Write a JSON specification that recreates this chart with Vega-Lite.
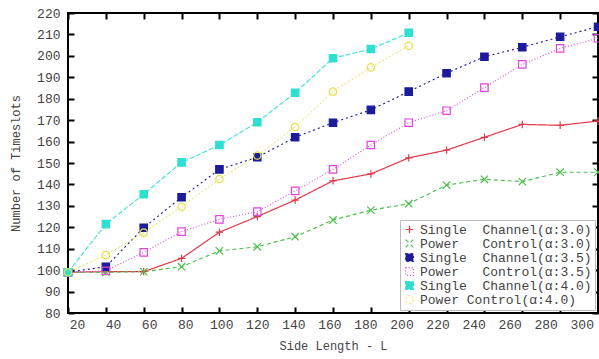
{
  "$schema": "https://vega.github.io/schema/vega-lite/v6.json",
  "width": 530,
  "height": 300,
  "autosize": {"type": "none"},
  "padding": {"left": 68, "top": 13, "right": 1, "bottom": 46},
  "background": "white",
  "config": {
    "view": {"stroke": "#000", "strokeWidth": 2},
    "font": "Liberation Mono",
    "axis": {
      "labelFont": "Liberation Mono", "labelFontSize": 13, "labelColor": "#444",
      "titleFont": "Liberation Mono", "titleFontSize": 12, "titleFontWeight": "normal", "titleColor": "#444",
      "grid": false, "domain": false, "ticks": false
    },
    "legend": {
      "orient": "bottom-right", "offset": 3, "padding": 3, "zindex": 2,
      "labelFont": "Liberation Mono", "labelFontSize": 13, "labelColor": "#444",
      "symbolSize": 60, "symbolStrokeWidth": 1.2, "rowPadding": 0,
      "fillColor": "white", "strokeColor": "#bbb", "labelLimit": 300
    }
  },
  "data": {"values": [
    {"s": "Single\u00a0\u00a0Channel(α:3.0)", "L": 15, "T": 99},
    {"s": "Single\u00a0\u00a0Channel(α:3.0)", "L": 36, "T": 99.3},
    {"s": "Single\u00a0\u00a0Channel(α:3.0)", "L": 57, "T": 99.3},
    {"s": "Single\u00a0\u00a0Channel(α:3.0)", "L": 78, "T": 105.5},
    {"s": "Single\u00a0\u00a0Channel(α:3.0)", "L": 99, "T": 117.7},
    {"s": "Single\u00a0\u00a0Channel(α:3.0)", "L": 120, "T": 125},
    {"s": "Single\u00a0\u00a0Channel(α:3.0)", "L": 141, "T": 132.7},
    {"s": "Single\u00a0\u00a0Channel(α:3.0)", "L": 162, "T": 141.7},
    {"s": "Single\u00a0\u00a0Channel(α:3.0)", "L": 183, "T": 144.9},
    {"s": "Single\u00a0\u00a0Channel(α:3.0)", "L": 204, "T": 152.4},
    {"s": "Single\u00a0\u00a0Channel(α:3.0)", "L": 225, "T": 156},
    {"s": "Single\u00a0\u00a0Channel(α:3.0)", "L": 246, "T": 162},
    {"s": "Single\u00a0\u00a0Channel(α:3.0)", "L": 267, "T": 168},
    {"s": "Single\u00a0\u00a0Channel(α:3.0)", "L": 288, "T": 167.6},
    {"s": "Single\u00a0\u00a0Channel(α:3.0)", "L": 309, "T": 169.6},
    {"s": "Power\u00a0\u00a0\u00a0Control(α:3.0)", "L": 15, "T": 99},
    {"s": "Power\u00a0\u00a0\u00a0Control(α:3.0)", "L": 36, "T": 99},
    {"s": "Power\u00a0\u00a0\u00a0Control(α:3.0)", "L": 57, "T": 99.3},
    {"s": "Power\u00a0\u00a0\u00a0Control(α:3.0)", "L": 78, "T": 101.6},
    {"s": "Power\u00a0\u00a0\u00a0Control(α:3.0)", "L": 99, "T": 109},
    {"s": "Power\u00a0\u00a0\u00a0Control(α:3.0)", "L": 120, "T": 110.9},
    {"s": "Power\u00a0\u00a0\u00a0Control(α:3.0)", "L": 141, "T": 115.6},
    {"s": "Power\u00a0\u00a0\u00a0Control(α:3.0)", "L": 162, "T": 123.4},
    {"s": "Power\u00a0\u00a0\u00a0Control(α:3.0)", "L": 183, "T": 128},
    {"s": "Power\u00a0\u00a0\u00a0Control(α:3.0)", "L": 204, "T": 131},
    {"s": "Power\u00a0\u00a0\u00a0Control(α:3.0)", "L": 225, "T": 139.7},
    {"s": "Power\u00a0\u00a0\u00a0Control(α:3.0)", "L": 246, "T": 142.4},
    {"s": "Power\u00a0\u00a0\u00a0Control(α:3.0)", "L": 267, "T": 141.3},
    {"s": "Power\u00a0\u00a0\u00a0Control(α:3.0)", "L": 288, "T": 145.7},
    {"s": "Power\u00a0\u00a0\u00a0Control(α:3.0)", "L": 309, "T": 145.7},
    {"s": "Single\u00a0\u00a0Channel(α:3.5)", "L": 15, "T": 99},
    {"s": "Single\u00a0\u00a0Channel(α:3.5)", "L": 36, "T": 101.6},
    {"s": "Single\u00a0\u00a0Channel(α:3.5)", "L": 57, "T": 119.8},
    {"s": "Single\u00a0\u00a0Channel(α:3.5)", "L": 78, "T": 134},
    {"s": "Single\u00a0\u00a0Channel(α:3.5)", "L": 99, "T": 147},
    {"s": "Single\u00a0\u00a0Channel(α:3.5)", "L": 120, "T": 152.7},
    {"s": "Single\u00a0\u00a0Channel(α:3.5)", "L": 141, "T": 162},
    {"s": "Single\u00a0\u00a0Channel(α:3.5)", "L": 162, "T": 168.8},
    {"s": "Single\u00a0\u00a0Channel(α:3.5)", "L": 183, "T": 174.8},
    {"s": "Single\u00a0\u00a0Channel(α:3.5)", "L": 204, "T": 183.3},
    {"s": "Single\u00a0\u00a0Channel(α:3.5)", "L": 225, "T": 191.9},
    {"s": "Single\u00a0\u00a0Channel(α:3.5)", "L": 246, "T": 199.6},
    {"s": "Single\u00a0\u00a0Channel(α:3.5)", "L": 267, "T": 204},
    {"s": "Single\u00a0\u00a0Channel(α:3.5)", "L": 288, "T": 208.9},
    {"s": "Single\u00a0\u00a0Channel(α:3.5)", "L": 309, "T": 213.6},
    {"s": "Power\u00a0\u00a0\u00a0Control(α:3.5)", "L": 15, "T": 99},
    {"s": "Power\u00a0\u00a0\u00a0Control(α:3.5)", "L": 36, "T": 99.7},
    {"s": "Power\u00a0\u00a0\u00a0Control(α:3.5)", "L": 57, "T": 108.3},
    {"s": "Power\u00a0\u00a0\u00a0Control(α:3.5)", "L": 78, "T": 118},
    {"s": "Power\u00a0\u00a0\u00a0Control(α:3.5)", "L": 99, "T": 123.7},
    {"s": "Power\u00a0\u00a0\u00a0Control(α:3.5)", "L": 120, "T": 127.3},
    {"s": "Power\u00a0\u00a0\u00a0Control(α:3.5)", "L": 141, "T": 137},
    {"s": "Power\u00a0\u00a0\u00a0Control(α:3.5)", "L": 162, "T": 147},
    {"s": "Power\u00a0\u00a0\u00a0Control(α:3.5)", "L": 183, "T": 158.4},
    {"s": "Power\u00a0\u00a0\u00a0Control(α:3.5)", "L": 204, "T": 168.8},
    {"s": "Power\u00a0\u00a0\u00a0Control(α:3.5)", "L": 225, "T": 174.4},
    {"s": "Power\u00a0\u00a0\u00a0Control(α:3.5)", "L": 246, "T": 185.2},
    {"s": "Power\u00a0\u00a0\u00a0Control(α:3.5)", "L": 267, "T": 196},
    {"s": "Power\u00a0\u00a0\u00a0Control(α:3.5)", "L": 288, "T": 203.5},
    {"s": "Power\u00a0\u00a0\u00a0Control(α:3.5)", "L": 309, "T": 208.2},
    {"s": "Single\u00a0\u00a0Channel(α:4.0)", "L": 15, "T": 99},
    {"s": "Single\u00a0\u00a0Channel(α:4.0)", "L": 36, "T": 121.5},
    {"s": "Single\u00a0\u00a0Channel(α:4.0)", "L": 57, "T": 135.4},
    {"s": "Single\u00a0\u00a0Channel(α:4.0)", "L": 78, "T": 150.3},
    {"s": "Single\u00a0\u00a0Channel(α:4.0)", "L": 99, "T": 158.4},
    {"s": "Single\u00a0\u00a0Channel(α:4.0)", "L": 120, "T": 169},
    {"s": "Single\u00a0\u00a0Channel(α:4.0)", "L": 141, "T": 182.8},
    {"s": "Single\u00a0\u00a0Channel(α:4.0)", "L": 162, "T": 198.9},
    {"s": "Single\u00a0\u00a0Channel(α:4.0)", "L": 183, "T": 203.2},
    {"s": "Single\u00a0\u00a0Channel(α:4.0)", "L": 204, "T": 210.8},
    {"s": "Power Control(α:4.0)", "L": 15, "T": 99},
    {"s": "Power Control(α:4.0)", "L": 36, "T": 107},
    {"s": "Power Control(α:4.0)", "L": 57, "T": 117.5},
    {"s": "Power Control(α:4.0)", "L": 78, "T": 129.6},
    {"s": "Power Control(α:4.0)", "L": 99, "T": 142.5},
    {"s": "Power Control(α:4.0)", "L": 120, "T": 153.5},
    {"s": "Power Control(α:4.0)", "L": 141, "T": 166.8},
    {"s": "Power Control(α:4.0)", "L": 162, "T": 183.3},
    {"s": "Power Control(α:4.0)", "L": 183, "T": 194.6},
    {"s": "Power Control(α:4.0)", "L": 204, "T": 204.7}
  ]},
  "resolve": {"axis": {"x": "independent", "y": "independent"}},
  "layer": [
    {
      "mark": {"type": "line"},
      "encoding": {
        "x": {"field": "L", "type": "quantitative",
          "scale": {"domain": [15, 309], "nice": false, "zero": false},
          "axis": {"orient": "bottom", "values": [20,40,60,80,100,120,140,160,180,200,220,240,260,280,300], "labelPadding": 5, "labelFlush": false, "title": "Side Length - L", "titlePadding": 9}},
        "y": {"field": "T", "type": "quantitative",
          "scale": {"domain": [80, 220], "nice": false, "zero": false},
          "axis": {"orient": "left", "values": [80,90,100,110,120,130,140,150,160,170,180,190,200,210,220], "labelPadding": 8, "labelFlush": false, "title": "Number of Timeslots", "titlePadding": 14}},
        "stroke": {"field": "s", "type": "nominal",
          "scale": {"domain": ["Single\u00a0\u00a0Channel(α:3.0)", "Power\u00a0\u00a0\u00a0Control(α:3.0)", "Single\u00a0\u00a0Channel(α:3.5)", "Power\u00a0\u00a0\u00a0Control(α:3.5)", "Single\u00a0\u00a0Channel(α:4.0)", "Power Control(α:4.0)"],
            "range": ["#e03a48", "#4cbf4c", "#1c1c9a", "#e045e0", "#2ee0d2", "#e6e04a"]},
          "legend": {"title": null}},
        "strokeDash": {"field": "s", "type": "nominal",
          "scale": {"domain": ["Single\u00a0\u00a0Channel(α:3.0)", "Power\u00a0\u00a0\u00a0Control(α:3.0)", "Single\u00a0\u00a0Channel(α:3.5)", "Power\u00a0\u00a0\u00a0Control(α:3.5)", "Single\u00a0\u00a0Channel(α:4.0)", "Power Control(α:4.0)"],
            "range": [[1, 0], [4, 3], [2, 3], [1, 2], [5, 2], [2, 2]]},
          "legend": {"title": null}},
        "strokeWidth": {"field": "s", "type": "nominal",
          "scale": {"domain": ["Single\u00a0\u00a0Channel(α:3.0)", "Power\u00a0\u00a0\u00a0Control(α:3.0)", "Single\u00a0\u00a0Channel(α:3.5)", "Power\u00a0\u00a0\u00a0Control(α:3.5)", "Single\u00a0\u00a0Channel(α:4.0)", "Power Control(α:4.0)"],
            "range": [1.2, 1, 2, 1, 1, 1]},
          "legend": null}
      }
    },
    {
      "mark": {"type": "point", "size": 55, "strokeWidth": 1.2, "opacity": 1},
      "encoding": {
        "x": {"field": "L", "type": "quantitative",
          "axis": {"orient": "top", "values": [15,36,57,78,99,120,141,162,183,204,225,246,267,288,309], "labels": false, "title": null,
            "grid": true, "gridColor": "#000", "gridWidth": 2, "gridOpacity": 1, "gridDash": [6, 288, 6, 60]}},
        "y": {"field": "T", "type": "quantitative",
          "axis": {"orient": "right", "values": [80,90,100,110,120,130,140,150,160,170,180,190,200,210,220], "labels": false, "title": null,
            "grid": true, "gridColor": "#000", "gridWidth": 2, "gridOpacity": 1, "gridDash": [6, 518, 6, 60]}},
        "stroke": {"field": "s", "type": "nominal", "legend": {"title": null}},
        "shape": {"field": "s", "type": "nominal",
          "scale": {"domain": ["Single\u00a0\u00a0Channel(α:3.0)", "Power\u00a0\u00a0\u00a0Control(α:3.0)", "Single\u00a0\u00a0Channel(α:3.5)", "Power\u00a0\u00a0\u00a0Control(α:3.5)", "Single\u00a0\u00a0Channel(α:4.0)", "Power Control(α:4.0)"],
            "range": ["M-1,0H1M0,-1V1", "M-1,-1L1,1M-1,1L1,-1", "square", "square", "square", "circle"]},
          "legend": {"title": null}},
        "fill": {"field": "s", "type": "nominal",
          "scale": {"domain": ["Single\u00a0\u00a0Channel(α:3.0)", "Power\u00a0\u00a0\u00a0Control(α:3.0)", "Single\u00a0\u00a0Channel(α:3.5)", "Power\u00a0\u00a0\u00a0Control(α:3.5)", "Single\u00a0\u00a0Channel(α:4.0)", "Power Control(α:4.0)"],
            "range": ["transparent", "transparent", "#1c1c9a", "transparent", "#2ee0d2", "transparent"]},
          "legend": {"title": null}}
      }
    }
  ]
}
